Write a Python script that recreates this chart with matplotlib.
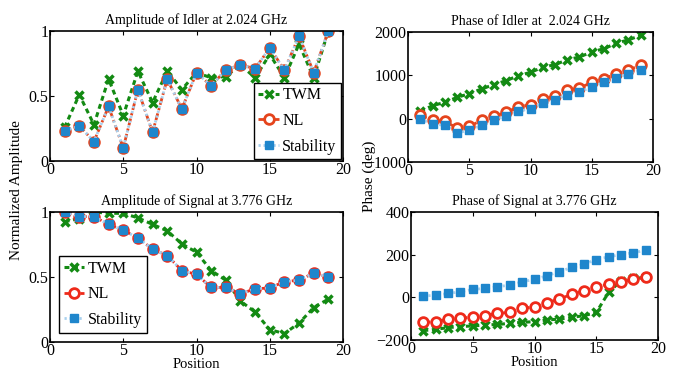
import numpy as np
import matplotlib
matplotlib.use('Agg')
import matplotlib.pyplot as plt

plt.rcParams['font.family'] = ['Liberation Serif', 'DejaVu Serif']
plt.rcParams['font.size'] = 11

pos = list(range(1, 20))

# amplitude of idler
idl_amp_twm = [0.26, 0.51, 0.28, 0.63, 0.35, 0.69, 0.45, 0.69, 0.55, 0.68,
               0.64, 0.65, 0.74, 0.64, 0.82, 0.64, 0.90, 0.64, 1.0]
idl_amp_nl = [0.23, 0.27, 0.15, 0.42, 0.10, 0.55, 0.22, 0.63, 0.40, 0.68,
              0.58, 0.70, 0.74, 0.71, 0.87, 0.70, 0.96, 0.68, 1.0]
idl_amp_st = [0.23, 0.27, 0.15, 0.42, 0.10, 0.55, 0.22, 0.63, 0.40, 0.68,
              0.58, 0.70, 0.74, 0.71, 0.87, 0.70, 0.96, 0.68, 1.0]

# phase of idler
idl_ph_twm = [170, 300, 377, 490, 577, 685, 785, 877, 990, 1070,
              1185, 1246, 1360, 1423, 1540, 1615, 1740, 1820, 1920]
idl_ph_nl = [77, -40, -60, -215, -177, -40, 54, 146, 270, 323,
             460, 515, 654, 708, 838, 915, 1040, 1130, 1230]
idl_ph_st = [-8, -123, -154, -330, -270, -154, -23, 54, 170, 230,
             360, 438, 554, 615, 730, 838, 938, 1040, 1130]

# amplitude of signal
sig_amp_twm = [0.925, 0.95, 1.0, 0.99, 0.99, 0.955, 0.905, 0.855, 0.755, 0.69,
               0.55, 0.475, 0.315, 0.23, 0.095, 0.065, 0.145, 0.265, 0.33]
sig_amp_nl = [1.0, 0.965, 0.965, 0.905, 0.86, 0.80, 0.715, 0.665, 0.55, 0.52,
              0.42, 0.42, 0.37, 0.41, 0.415, 0.465, 0.475, 0.53, 0.50]
sig_amp_st = [1.0, 0.965, 0.965, 0.905, 0.86, 0.80, 0.715, 0.665, 0.55, 0.52,
              0.42, 0.42, 0.37, 0.41, 0.415, 0.465, 0.475, 0.53, 0.50]

# phase of signal
sig_ph_twm = [-156, -150, -142, -137, -134, -130, -127, -122, -117, -114,
              -106, -102, -94, -86, -71, 23, 78, 89, 93]
sig_ph_nl = [-117, -114, -103, -99, -91, -86, -75, -71, -52, -44,
             -25, -8, 14, 31, 49, 62, 73, 84, 93]
sig_ph_st = [6, 10, 18, 26, 37, 42, 50, 57, 73, 84,
             101, 120, 140, 155, 177, 190, 200, 209, 220]

green = '#138a13'
red = '#ee2a1a'
red2 = '#e5441c'
blue = '#1f86cc'

W, H = 679, 382
fig = plt.figure(figsize=(W / 100, H / 100), dpi=100)


def box(l, t, r, b):
    return [l / W, 1 - b / H, (r - l) / W, (b - t) / H]


def style(ax, ylim, yticks):
    ax.set_xlim(0, 20)
    ax.set_ylim(*ylim)
    ax.set_xticks([0, 5, 10, 15, 20])
    ax.set_yticks(yticks)
    ax.tick_params(direction='in', top=True, right=True, length=3, labelsize=11.5, pad=1)
    for s in ax.spines.values():
        s.set_linewidth(1.2)


def draw(ax, twm, nl, st, nl_col):
    ax.plot(pos, twm, color=green, lw=2.2, ls=(0, (1.6, 1.2)), marker='x', ms=5.5,
            mew=2.5, label='TWM')
    ax.plot(pos, nl, color=nl_col, lw=2, ls=(0, (2.5, 1.2, 0.8, 1.2)), marker='o',
            ms=7, mew=2, mfc='white', mec=nl_col, label='NL')
    ax.plot(pos, st, color='#a8d0ee', lw=2, ls=(0, (0.8, 1.0)), marker='s', ms=5.5,
            mfc=blue, mec=blue, label='Stability')


def legend(ax, **kw):
    lg = ax.legend(fontsize=11.5, handlelength=1.3, handletextpad=0.2, borderpad=0.3,
                   labelspacing=0.6, fancybox=False, framealpha=1, borderaxespad=0.1,
                   **kw)
    lg.get_frame().set_edgecolor('black')
    lg.get_frame().set_linewidth(1.0)


ax1 = fig.add_axes(box(50, 31, 343, 161))
draw(ax1, idl_amp_twm, idl_amp_nl, idl_amp_st, red2)
style(ax1, (0, 1), [0, 0.5, 1])
ax1.set_yticklabels(['0', '0.5', '1'])
ax1.set_title('Amplitude of Idler at 2.024 GHz', fontsize=10, pad=5)
legend(ax1, loc='lower right', bbox_to_anchor=(1.0, 0.0))

ax2 = fig.add_axes(box(408, 32, 653, 162))
draw(ax2, idl_ph_twm, idl_ph_nl, idl_ph_st, red2)
style(ax2, (-1000, 2000), [-1000, 0, 1000, 2000])
ax2.set_title('Phase of Idler at  2.024 GHz', fontsize=10, pad=5)

ax3 = fig.add_axes(box(50, 212, 343, 342))
draw(ax3, sig_amp_twm, sig_amp_nl, sig_amp_st, red)
style(ax3, (0, 1), [0, 0.5, 1])
ax3.set_yticklabels(['0', '0.5', '1'])
ax3.set_title('Amplitude of Signal at 3.776 GHz', fontsize=10, pad=5)
ax3.set_xlabel('Position', fontsize=10.5, labelpad=-1)
legend(ax3, loc='lower left', bbox_to_anchor=(0.025, 0.06))

ax4 = fig.add_axes(box(411, 212, 658, 340))
draw(ax4, sig_ph_twm, sig_ph_nl, sig_ph_st, red)
style(ax4, (-200, 400), [-200, 0, 200, 400])
ax4.set_title('Phase of Signal at 3.776 GHz', fontsize=10, pad=5)
ax4.set_xlabel('Position', fontsize=10.5, labelpad=-1)

fig.text(17 / W, 1 - 190 / H, 'Normalized Amplitude', rotation=90, fontsize=11,
         ha='center', va='center')
fig.text(369 / W, 1 - 176 / H, 'Phase (deg)', rotation=90, fontsize=11,
         ha='center', va='center')

fig.savefig('out.png', dpi=100)
